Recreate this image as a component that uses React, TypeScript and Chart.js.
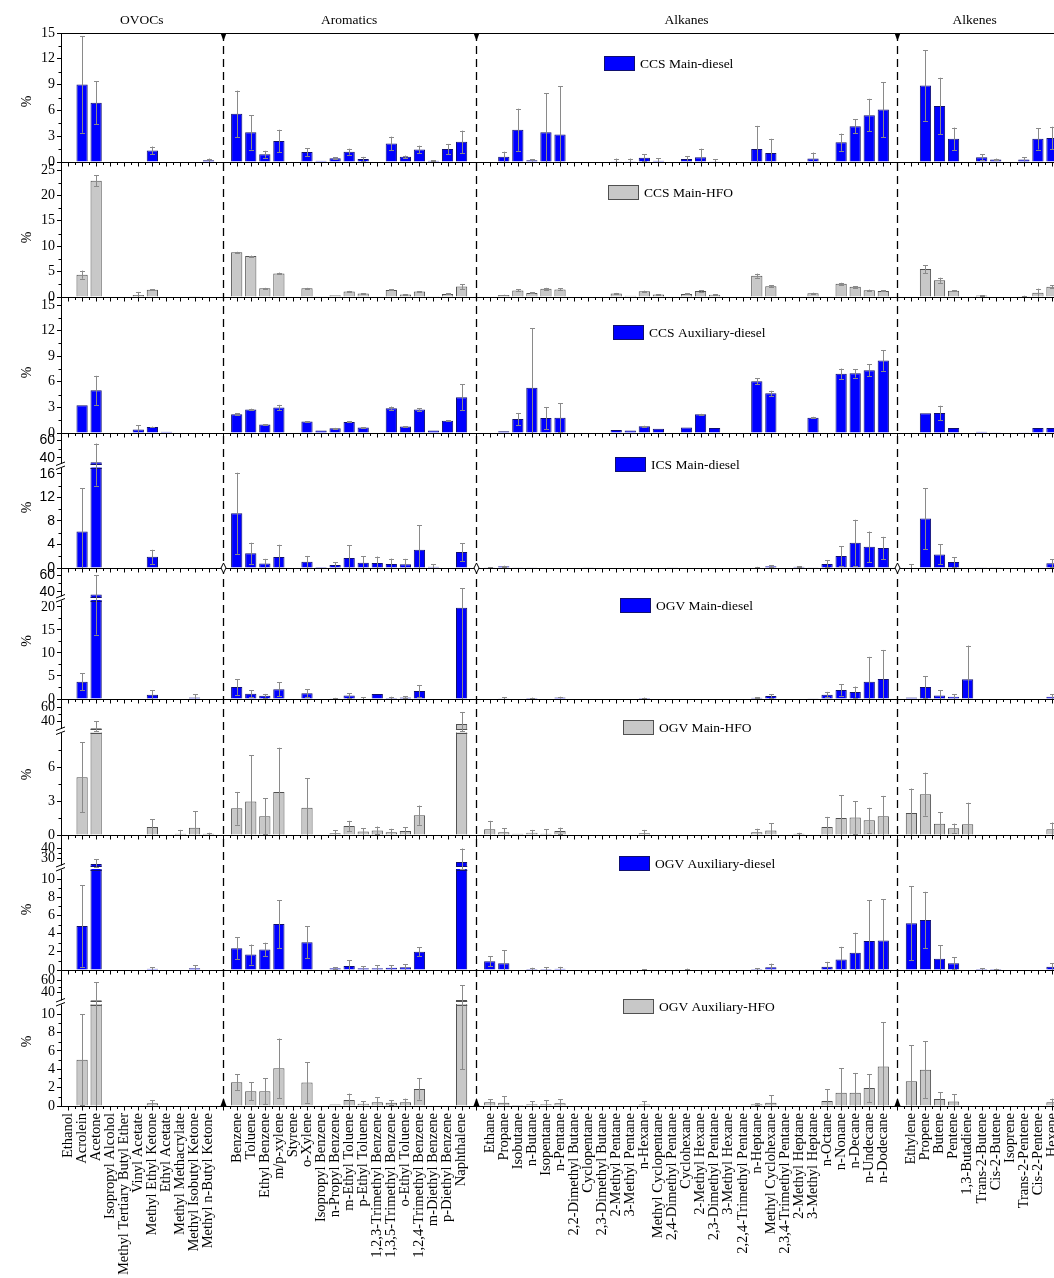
import React, { useEffect, useRef } from 'react';
import { Chart, registerables, LinearScale } from 'chart.js';

const SERIF = "'Liberation Serif', 'Times New Roman', serif";
const SANS = "'Liberation Sans', Arial, sans-serif";

// ---------- categories ----------
const ovocs = ['Ethanol', 'Acrolein', 'Acetone', 'Isopropyl Alcohol', 'Methyl Tertiary Butyl Ether', 'Vinyl Acetate', 'Methyl Ethyl Ketone', 'Ethyl Acetate', 'Methyl Methacrylate', 'Methyl Isobutyl Ketone', 'Methyl n-Butyl Ketone'];
const aromatics = ['Benzene', 'Toluene', 'Ethyl Benzene', 'm/p-xylene', 'Styrene', 'o-Xylene', 'Isopropyl Benzene', 'n-Propyl Benzene', 'm-Ethyl Toluene', 'p-Ethyl Toluene', '1,2,3-Trimethyl Benzene', '1,3,5-Trimethyl Benzene', 'o-Ethyl Toluene', '1,2,4-Trimethyl Benzene', 'm-Diethyl Benzene', 'p-Diethyl Benzene', 'Naphthalene'];
const alkanes = ['Ethane', 'Propane', 'Isobutane', 'n-Butane', 'Isopentane', 'n-Pentane', '2,2-Dimethyl Butane', 'Cyclopentane', '2,3-Dimethyl Butane', '2-Methyl Pentane', '3-Methyl Pentane', 'n-Hexane', 'Methyl Cyclopentane', '2,4-Dimethyl Pentane', 'Cyclohexane', '2-Methyl Hexane', '2,3-Dimethyl Pentane', '3-Methyl Hexane', '2,2,4-Trimethyl Pentane', 'n-Heptane', 'Methyl Cyclohexane', '2,3,4-Trimethyl Pentane', '2-Methyl Heptane', '3-Methyl Heptane', 'n-Octane', 'n-Nonane', 'n-Decane', 'n-Undecane', 'n-Dodecane'];
const alkenes = ['Ethylene', 'Propene', 'Butene', 'Pentene', '1,3-Butadiene', 'Trans-2-Butene', 'Cis-2-Butene', 'Isoprene', 'Trans-2-Pentene', 'Cis-2-Pentene', 'Hexene'];
const sectionNames = ['OVOCs', 'Aromatics', 'Alkanes', 'Alkenes'];

const categories = [...ovocs, '', ...aromatics, '', ...alkanes, '', ...alkenes];

// ---------- data (order: OVOCs | Aromatics | Alkanes | Alkenes) ----------
const ccsMainDieselVal = [
  0, 9.0, 6.9, 0, 0, 0, 1.35, 0.05, 0, 0.05, 0.2,
  5.6, 3.45, 0.9, 2.45, 0, 1.15, 0.15, 0.45, 1.2, 0.35, 0, 2.15, 0.6, 1.45, 0.15, 1.5, 2.35,
  0, 0.6, 3.75, 0.2, 3.45, 3.2, 0, 0, 0.05, 0.1, 0.1, 0.5, 0.15, 0.05, 0.35, 0.55, 0.1, 0, 0, 1.5, 1.05, 0, 0, 0.4, 0, 2.3, 4.15, 5.45, 6.1,
  0, 8.9, 6.5, 2.7, 0, 0.55, 0.3, 0, 0.3, 2.7, 2.8,
];
const ccsMainDieselErr = [
  0, 5.6, 2.5, 0, 0, 0, 0.45, 0, 0, 0, 0.2,
  2.7, 2.0, 0.4, 1.3, 0, 0.45, 0, 0.1, 0.35, 0.25, 0, 0.8, 0.15, 0.45, 0.05, 0.6, 1.3,
  0, 0.6, 2.45, 0.15, 4.55, 5.6, 0, 0, 0, 0.3, 0.3, 0.4, 0.3, 0, 0.3, 1.0, 0.2, 0, 0, 2.7, 1.65, 0, 0, 0.7, 0, 1.0, 0.8, 1.9, 3.2,
  0, 4.1, 3.3, 1.3, 0, 0.35, 0.1, 0, 0.25, 1.25, 1.3,
];
const ccsMainHfoVal = [
  0, 4.4, 22.9, 0, 0, 0.4, 1.45, 0.1, 0, 0.05, 0.1,
  8.8, 8.05, 1.7, 4.65, 0, 1.7, 0.15, 0.35, 1.1, 0.7, 0, 1.4, 0.5, 1.1, 0.15, 0.6, 2.05,
  0, 0.4, 1.3, 0.8, 1.6, 1.5, 0, 0.1, 0, 0.7, 0.25, 1.15, 0.5, 0.1, 0.6, 1.2, 0.45, 0, 0, 4.2, 2.1, 0, 0, 0.75, 0, 2.6, 2.0, 1.35, 1.2,
  0, 5.5, 3.3, 1.25, 0, 0.3, 0.1, 0, 0.15, 0.85, 2.0,
];
const ccsMainHfoErr = [
  0, 0.8, 1.1, 0, 0, 0.6, 0.1, 0, 0, 0, 0,
  0.1, 0.1, 0.1, 0.15, 0, 0.1, 0, 0, 0.1, 0.05, 0, 0.1, 0.05, 0.05, 0, 0.1, 0.45,
  0, 0.05, 0.2, 0.1, 0.2, 0.2, 0, 0, 0, 0.1, 0, 0.1, 0.05, 0, 0.1, 0.15, 0.05, 0, 0, 0.4, 0.2, 0, 0, 0.1, 0, 0.2, 0.15, 0.1, 0.1,
  0, 0.8, 0.5, 0.1, 0, 0.05, 0, 0, 0.1, 0.8, 0.3,
];
const ccsAuxDieselVal = [
  0, 3.25, 5.0, 0, 0, 0.4, 0.7, 0.15, 0, 0, 0,
  2.2, 2.75, 1.0, 3.0, 0, 1.35, 0.3, 0.55, 1.3, 0.65, 0, 2.9, 0.75, 2.75, 0.3, 1.45, 4.2,
  0, 0.2, 1.65, 5.3, 1.75, 1.8, 0, 0, 0, 0.35, 0.3, 0.8, 0.5, 0, 0.65, 2.2, 0.6, 0, 0, 6.05, 4.65, 0, 0, 1.8, 0, 6.95, 7.0, 7.35, 8.5,
  0, 2.3, 2.35, 0.6, 0, 0.15, 0.1, 0, 0.1, 0.6, 0.6,
];
const ccsAuxDieselErr = [
  0, 0, 1.7, 0, 0, 0.5, 0.05, 0, 0, 0, 0,
  0.1, 0.1, 0.05, 0.3, 0, 0.05, 0, 0.05, 0.05, 0.05, 0, 0.2, 0.05, 0.15, 0, 0.05, 1.5,
  0, 0, 0.7, 7.0, 1.3, 1.7, 0, 0, 0, 0, 0, 0.05, 0, 0, 0, 0.05, 0, 0, 0, 0.35, 0.3, 0, 0, 0.1, 0, 0.6, 0.5, 0.7, 1.2,
  0, 0, 0.85, 0, 0, 0, 0, 0, 0, 0, 0,
];
const icsMainDieselVal = [
  0, 6.2, 35, 0, 0, 0, 1.9, 0, 0, 0, 0,
  9.3, 2.5, 0.75, 1.85, 0, 1.05, 0.15, 0.5, 1.7, 0.9, 0.85, 0.7, 0.65, 3.1, 0.2, 0, 2.7,
  0.05, 0.3, 0.05, 0.05, 0, 0, 0, 0.05, 0, 0, 0, 0, 0, 0.05, 0, 0, 0, 0, 0, 0.1, 0.3, 0, 0.2, 0.05, 0.7, 2.05, 4.3, 3.6, 3.4,
  0.1, 8.4, 2.3, 1.0, 0, 0.05, 0.05, 0, 0, 0, 0.8,
];
const icsMainDieselErr = [
  0, 7.4, 21, 0, 0, 0, 1.2, 0, 0, 0, 0,
  6.9, 1.8, 0.8, 2.1, 0, 1.0, 0, 0.5, 2.2, 1.1, 1.1, 0.9, 0.9, 4.2, 0.4, 0, 1.5,
  0.1, 0.1, 0, 0, 0, 0, 0, 0, 0, 0, 0, 0, 0, 0, 0, 0, 0, 0, 0, 0.1, 0.2, 0, 0.1, 0, 0.6, 1.65, 3.9, 2.6, 1.9,
  0.5, 5.2, 1.7, 0.8, 0, 0, 0, 0, 0, 0, 0.7,
];
const ogvMainDieselVal = [
  0, 3.75, 37, 0, 0, 0, 0.95, 0, 0, 0.35, 0,
  2.6, 1.15, 0.7, 2.1, 0, 1.25, 0.1, 0.15, 0.75, 0.1, 1.1, 0.2, 0.35, 1.75, 0.1, 0, 19.8,
  0, 0.15, 0, 0.2, 0, 0.3, 0, 0, 0, 0, 0, 0.2, 0, 0, 0, 0, 0, 0, 0, 0.25, 0.65, 0, 0.1, 0.15, 0.95, 1.95, 1.5, 3.75, 4.35,
  0.3, 2.6, 0.75, 0.5, 4.3, 0.1, 0, 0, 0, 0, 0.5,
];
const ogvMainDieselErr = [
  0, 1.8, 23, 0, 0, 0, 0.9, 0, 0, 0.7, 0,
  1.7, 0.7, 0.4, 1.5, 0, 0.9, 0, 0.1, 0.5, 0.3, 0, 0.3, 0.2, 1.3, 0, 0, 24.5,
  0, 0.2, 0, 0.1, 0, 0.2, 0, 0, 0, 0, 0, 0.1, 0, 0, 0, 0, 0, 0, 0, 0.1, 0.4, 0, 0, 0, 0.6, 1.2, 1.2, 5.4, 6.3,
  0, 2.4, 1.1, 0.5, 7.3, 0, 0, 0, 0, 0, 0.5,
];
const ogvMainHfoVal = [
  0, 5.1, 30, 0, 0, 0, 0.7, 0, 0.1, 0.65, 0.1,
  2.35, 2.95, 1.65, 3.8, 0, 2.4, 0, 0.15, 0.8, 0.3, 0.4, 0.25, 0.35, 1.75, 0, 0, 36,
  0.5, 0.25, 0.1, 0.2, 0.1, 0.35, 0, 0, 0, 0, 0, 0.15, 0, 0, 0, 0, 0, 0, 0.05, 0.25, 0.4, 0, 0.1, 0.05, 0.7, 1.5, 1.55, 1.3, 1.65,
  1.95, 3.6, 1.0, 0.6, 0.95, 0.05, 0.05, 0, 0, 0, 0.5,
];
const ogvMainHfoErr = [
  0, 3.1, 10, 0, 0, 0, 0.7, 0, 0.35, 1.45, 0.1,
  1.45, 4.1, 1.6, 3.9, 0, 2.6, 0, 0.25, 0.45, 0.3, 0.35, 0.3, 0.35, 0.85, 0, 0, 17,
  0.75, 0.35, 0, 0.25, 0.4, 0.3, 0, 0, 0, 0, 0, 0.3, 0, 0, 0, 0, 0, 0, 0, 0.3, 0.65, 0, 0.1, 0, 0.9, 2.0, 1.45, 1.1, 1.8,
  2.15, 1.9, 1.0, 0.4, 1.9, 0, 0, 0, 0, 0, 0.6,
];
const ogvAuxDieselVal = [
  0, 4.85, 24, 0, 0, 0, 0.15, 0, 0, 0.2, 0,
  2.4, 1.7, 2.25, 5.05, 0, 3.05, 0, 0.2, 0.45, 0.2, 0.2, 0.25, 0.3, 2.0, 0, 0, 26,
  0.95, 0.75, 0.05, 0.1, 0.1, 0.15, 0, 0, 0, 0, 0, 0.05, 0, 0, 0.05, 0, 0, 0, 0, 0.1, 0.3, 0, 0.05, 0, 0.35, 1.15, 1.9, 3.2, 3.25,
  5.15, 5.5, 1.25, 0.75, 0, 0.1, 0.1, 0, 0.05, 0.05, 0.35,
];
const ogvAuxDieselErr = [
  0, 4.5, 5, 0, 0, 0, 0.15, 0, 0, 0.3, 0,
  1.2, 1.1, 0.75, 2.65, 0, 1.75, 0, 0.1, 0.65, 0.2, 0.3, 0.25, 0.35, 0.5, 0, 0, 13.5,
  0.55, 1.4, 0, 0.15, 0.2, 0.2, 0, 0, 0, 0, 0, 0.05, 0, 0, 0.1, 0, 0, 0, 0, 0.1, 0.4, 0, 0, 0, 0.55, 1.4, 2.2, 4.5, 4.55,
  4.05, 3.1, 1.45, 0.65, 0, 0.1, 0.05, 0, 0, 0, 0.4,
];
const ogvAuxHfoVal = [
  0, 5.05, 27, 0, 0, 0, 0.3, 0, 0, 0, 0,
  2.6, 1.6, 1.6, 4.1, 0, 2.55, 0, 0.15, 0.65, 0.25, 0.4, 0.35, 0.4, 1.85, 0, 0, 28,
  0.4, 0.35, 0.1, 0.2, 0.2, 0.3, 0, 0, 0, 0, 0, 0.15, 0, 0, 0, 0, 0, 0, 0, 0.2, 0.35, 0, 0.05, 0, 0.55, 1.45, 1.45, 1.95, 4.3,
  2.7, 3.95, 0.75, 0.5, 0, 0.05, 0.05, 0, 0, 0, 0.4,
];
const ogvAuxHfoErr = [
  0, 4.95, 30, 0, 0, 0, 0.3, 0, 0, 0, 0,
  0.85, 1.0, 1.4, 3.25, 0, 2.2, 0, 0, 0.7, 0.25, 0.55, 0.25, 0.4, 1.15, 0, 0, 24,
  0.35, 0.7, 0, 0.3, 0.45, 0.45, 0, 0, 0, 0, 0, 0.35, 0, 0, 0, 0, 0, 0, 0, 0.1, 0.8, 0, 0, 0, 1.25, 2.65, 2.15, 1.5, 4.8,
  3.9, 3.1, 0.75, 0.8, 0, 0, 0, 0, 0, 0, 0.4,
];

const panelNames = ['CCS Main-diesel', 'CCS Main-HFO', 'CCS Auxiliary-diesel', 'ICS Main-diesel', 'OGV Main-diesel', 'OGV Main-HFO', 'OGV Auxiliary-diesel', 'OGV Auxiliary-HFO'];

// y tick labels per panel
const ticksP1 = [0, 3, 6, 9, 12, 15];
const ticksP2 = [0, 5, 10, 15, 20, 25];
const ticksP3 = [0, 3, 6, 9, 12, 15];
const ticksP4 = [0, 4, 8, 12, 16, 40, 60];
const ticksP5 = [0, 5, 10, 15, 20, 40, 60];
const ticksP6 = [0, 3, 6, 40, 60];
const ticksP7 = [0, 2, 4, 6, 8, 10, 30, 40];
const ticksP8 = [0, 2, 4, 6, 8, 10, 40, 60];

const BLUE = '#0000FF';
const BLUE_EDGE = '#101070';
const GRAY = '#C8C8C8';
const GRAY_EDGE = '#505050';
const ERR = '#8a8a8a';

// ---------- panel layout (scale config) ----------
type Panel = {
  id: string; name: string; val: number[]; err: number[]; gray: boolean;
  height: number; pad: number; map: number[][]; ticks: number[]; minor: number[];
  brk: number[] | null; legend: number[]; sansAbove: number;
};
const PANELS: Panel[] = [
  { id: 'p1', name: panelNames[0], val: ccsMainDieselVal, err: ccsMainDieselErr, gray: false, height: 137, pad: 8, map: [[0, 0], [15, 129]], ticks: ticksP1, minor: [1.5, 4.5, 7.5, 10.5, 13.5], brk: null, legend: [604, 23], sansAbove: 999 },
  { id: 'p2', name: panelNames[1], val: ccsMainHfoVal, err: ccsMainHfoErr, gray: true, height: 135, pad: 8, map: [[0, 0], [25, 127]], ticks: ticksP2, minor: [2.5, 7.5, 12.5, 17.5, 22.5], brk: null, legend: [608, 15], sansAbove: 999 },
  { id: 'p3', name: panelNames[2], val: ccsAuxDieselVal, err: ccsAuxDieselErr, gray: false, height: 135, pad: 7, map: [[0, 0], [15, 128]], ticks: ticksP3, minor: [1.5, 4.5, 7.5, 10.5, 13.5], brk: null, legend: [613, 20], sansAbove: 999 },
  { id: 'p4', name: panelNames[3], val: icsMainDieselVal, err: icsMainDieselErr, gray: false, height: 135, pad: 7, map: [[0, 0], [17, 100], [33, 104], [60, 128]], ticks: ticksP4, minor: [2, 6, 10, 14, 50], brk: [17, 33], legend: [615, 17], sansAbove: -1 },
  { id: 'p5', name: panelNames[4], val: ogvMainDieselVal, err: ogvMainDieselErr, gray: false, height: 132, pad: 8, map: [[0, 0], [21.5, 99], [34, 102], [60, 124]], ticks: ticksP5, minor: [2.5, 7.5, 12.5, 17.5, 50], brk: [21.5, 34], legend: [620, 23], sansAbove: 30 },
  { id: 'p6', name: panelNames[5], val: ogvMainHfoVal, err: ogvMainHfoErr, gray: true, height: 135, pad: 7, map: [[0, 0], [9, 102], [29, 106], [60, 128]], ticks: ticksP6, minor: [1.5, 4.5, 7.5, 50], brk: [9, 29], legend: [623, 13], sansAbove: 999 },
  { id: 'p7', name: panelNames[6], val: ogvAuxDieselVal, err: ogvAuxDieselErr, gray: false, height: 135, pad: 7, map: [[0, 0], [11, 100], [23, 105], [46, 128]], ticks: ticksP7, minor: [1, 3, 5, 7, 9, 35], brk: [11, 23], legend: [619, 14], sansAbove: 999 },
  { id: 'p8', name: panelNames[7], val: ogvAuxHfoVal, err: ogvAuxHfoErr, gray: true, height: 129, pad: 0, map: [[0, 0], [11, 101], [28, 106], [66, 129]], ticks: ticksP8, minor: [1, 3, 5, 7, 9, 50], brk: [11, 28], legend: [623, 22], sansAbove: 999 },
];
const PANEL_BY_ID: Record<string, Panel> = {};
PANELS.forEach((p) => { PANEL_BY_ID[p.id] = p; });

// section boundaries in category-slot units
const GAP_SLOTS = [11, 29, 59];
const SECTION_SPANS = [[-0.5, 11], [11, 29], [29, 59], [59, 70]];

function withGaps(arr: number[]): (number | null)[] {
  return [...arr.slice(0, 11), null, ...arr.slice(11, 28), null, ...arr.slice(28, 57), null, ...arr.slice(57)];
}

// ---------- broken linear scale ----------
class BrokenScale extends LinearScale {
  static id = 'broken';
  static defaults = {};
  buildTicks() {
    const p = PANEL_BY_ID[(this as any).id];
    return p.ticks.map((v) => ({ value: v }));
  }
  _frac(v: number) {
    const pts = PANEL_BY_ID[(this as any).id].map;
    const total = pts[pts.length - 1][1];
    if (v <= pts[0][0]) return 0;
    for (let i = 1; i < pts.length; i++) {
      const [v0, p0] = pts[i - 1];
      const [v1, p1] = pts[i];
      if (v <= v1) return (p0 + ((v - v0) / (v1 - v0)) * (p1 - p0)) / total;
    }
    return 1;
  }
  getPixelForValue(v: any) {
    if (v === null || v === undefined || isNaN(v)) return NaN;
    const p = PANEL_BY_ID[(this as any).id];
    const self: any = this;
    const zero = self.bottom - p.pad;
    return zero - this._frac(+v) * (zero - self.top);
  }
  getValueForPixel(px: number) {
    const p = PANEL_BY_ID[(this as any).id];
    const self: any = this;
    const zero = self.bottom - p.pad;
    const pts = p.map;
    const total = pts[pts.length - 1][1];
    const f = ((zero - px) / (zero - self.top)) * total;
    for (let i = 1; i < pts.length; i++) {
      const [v0, p0] = pts[i - 1];
      const [v1, p1] = pts[i];
      if (f <= p1) return v0 + ((f - p0) / (p1 - p0)) * (v1 - v0);
    }
    return pts[pts.length - 1][0];
  }
}

Chart.register(...registerables, BrokenScale as any);

function line(ctx: CanvasRenderingContext2D, x1: number, y1: number, x2: number, y2: number) {
  ctx.beginPath();
  ctx.moveTo(x1, y1);
  ctx.lineTo(x2, y2);
  ctx.stroke();
}

const extrasPlugin = {
  id: 'extras',
  afterDatasetsDraw(chart: any) {
    const ctx: CanvasRenderingContext2D = chart.ctx;
    ctx.save();
    PANELS.forEach((p, di) => {
      const meta = chart.getDatasetMeta(di);
      const ys = chart.scales[p.id];
      const vals = withGaps(p.val);
      const errs = withGaps(p.err);
      // axis-break gap through bars
      if (p.brk) {
        const ym = (ys.getPixelForValue(p.brk[0]) + ys.getPixelForValue(p.brk[1])) / 2;
        meta.data.forEach((bar: any, i: number) => {
          const v = vals[i];
          if (v == null || v <= p.brk![0]) return;
          const w = bar.width;
          ctx.fillStyle = '#ffffff';
          ctx.fillRect(bar.x - w / 2 - 1, ym - 1.5, w + 2, 3);
          ctx.strokeStyle = p.gray ? GRAY_EDGE : BLUE_EDGE;
          ctx.lineWidth = 1;
          line(ctx, bar.x - w / 2, Math.round(ym - 2) + 0.5, bar.x + w / 2, Math.round(ym - 2) + 0.5);
          line(ctx, bar.x - w / 2, Math.round(ym + 2) + 0.5, bar.x + w / 2, Math.round(ym + 2) + 0.5);
        });
      }
      // error bars
      ctx.strokeStyle = ERR;
      ctx.lineWidth = 1;
      meta.data.forEach((bar: any, i: number) => {
        const v = vals[i];
        const e = errs[i];
        if (v == null || e == null || e <= 0) return;
        const x = Math.round(bar.x) + 0.5;
        const yTop = ys.getPixelForValue(v + e);
        const yBot = ys.getPixelForValue(Math.max(0, v - e));
        line(ctx, x, yTop, x, yBot);
        line(ctx, x - 2.5, Math.round(yTop) + 0.5, x + 2.5, Math.round(yTop) + 0.5);
        if (v - e > 0) line(ctx, x - 2.5, Math.round(yBot) + 0.5, x + 2.5, Math.round(yBot) + 0.5);
      });
    });
    ctx.restore();
  },
  afterDraw(chart: any) {
    const ctx: CanvasRenderingContext2D = chart.ctx;
    const ca = chart.chartArea;
    const xs = chart.scales.x;
    ctx.save();
    ctx.strokeStyle = '#000';
    ctx.fillStyle = '#000';
    ctx.lineWidth = 1;
    // top frame
    line(ctx, ca.left, Math.round(ca.top) + 0.5, ca.right, Math.round(ca.top) + 0.5);

    PANELS.forEach((p) => {
      const ys = chart.scales[p.id];
      const y0 = Math.round(ys.getPixelForValue(0)) + 0.5;
      ctx.strokeStyle = '#000';
      ctx.lineWidth = 1;
      line(ctx, ca.left, y0, ca.right, y0);
      for (let i = 0; i < categories.length; i++) {
        const x = Math.round(xs.getPixelForValue(i)) + 0.5;
        line(ctx, x, y0, x, y0 + 4);
        const xm = Math.round(xs.getPixelForValue(i + 0.5)) + 0.5;
        line(ctx, xm, y0, xm, y0 + 2.5);
      }
      // minor y ticks
      p.minor.forEach((v) => {
        const y = Math.round(ys.getPixelForValue(v)) + 0.5;
        line(ctx, ys.right - 2.5, y, ys.right, y);
      });
      // axis break symbol
      if (p.brk) {
        const ym = (ys.getPixelForValue(p.brk[0]) + ys.getPixelForValue(p.brk[1])) / 2;
        const ax = ys.right;
        ctx.fillStyle = '#fff';
        ctx.fillRect(ax - 5, ym - 2, 10, 4);
        ctx.strokeStyle = '#000';
        line(ctx, ax - 5, ym - 0.5, ax + 4, ym - 4);
        line(ctx, ax - 5, ym + 3.5, ax + 4, ym);
      }
      // legend
      const bx = p.legend[0];
      const by = ys.top + p.legend[1];
      ctx.fillStyle = p.gray ? GRAY : BLUE;
      ctx.fillRect(bx, by, 31, 15);
      ctx.strokeStyle = p.gray ? GRAY_EDGE : BLUE_EDGE;
      ctx.strokeRect(bx + 0.5, by + 0.5, 30, 14);
      ctx.fillStyle = '#000';
      ctx.font = `13.5px ${SERIF}`;
      ctx.textAlign = 'left';
      ctx.textBaseline = 'middle';
      ctx.fillText(p.name, bx + 36, by + 8);
    });

    // dashed section separators
    const p4 = chart.scales.p4;
    const p4zero = p4.getPixelForValue(0);
    GAP_SLOTS.forEach((s) => {
      const x = Math.round(xs.getPixelForValue(s)) + 0.5;
      ctx.strokeStyle = '#000';
      ctx.lineWidth = 1.3;
      ctx.setLineDash([8, 5]);
      line(ctx, x, ca.top, x, ca.bottom);
      ctx.setLineDash([]);
      ctx.fillStyle = '#000';
      ctx.beginPath();
      ctx.moveTo(x - 3, ca.top);
      ctx.lineTo(x + 3, ca.top);
      ctx.lineTo(x, ca.top + 8);
      ctx.closePath();
      ctx.fill();
      ctx.beginPath();
      ctx.moveTo(x - 3, ca.bottom);
      ctx.lineTo(x + 3, ca.bottom);
      ctx.lineTo(x, ca.bottom - 8);
      ctx.closePath();
      ctx.fill();
      ctx.lineWidth = 1;
      ctx.fillStyle = '#fff';
      ctx.beginPath();
      ctx.moveTo(x, p4zero - 5);
      ctx.lineTo(x + 2.5, p4zero);
      ctx.lineTo(x, p4zero + 5);
      ctx.lineTo(x - 2.5, p4zero);
      ctx.closePath();
      ctx.fill();
      ctx.stroke();
    });

    // section headers
    ctx.fillStyle = '#000';
    ctx.font = `13.5px ${SERIF}`;
    ctx.textAlign = 'center';
    ctx.textBaseline = 'middle';
    sectionNames.forEach((name, i) => {
      const [a, b] = SECTION_SPANS[i];
      const x = (xs.getPixelForValue(a) + xs.getPixelForValue(b)) / 2;
      ctx.fillText(name, x, 20);
    });
    ctx.restore();
  },
};

export default function App() {
  const ref = useRef<HTMLCanvasElement>(null);
  useEffect(() => {
    const canvas = ref.current;
    if (!canvas) return;
    const datasets = PANELS.map((p) => ({
      type: 'bar' as const,
      label: p.name,
      data: withGaps(p.val),
      xAxisID: 'x',
      yAxisID: p.id,
      grouped: false,
      backgroundColor: p.gray ? GRAY : BLUE,
      borderColor: p.gray ? GRAY_EDGE : BLUE_EDGE,
      borderWidth: 1,
      borderSkipped: 'start' as const,
      barPercentage: 0.8,
      categoryPercentage: 1,
    }));
    const scales: any = {
      x: {
        type: 'category',
        position: 'bottom',
        offset: true,
        grid: { display: false, drawTicks: false },
        border: { display: false },
        ticks: {
          autoSkip: false,
          maxRotation: 90,
          minRotation: 90,
          padding: 7,
          color: '#000',
          font: { family: SERIF, size: 14.5 },
        },
        afterFit: (s: any) => {
          s.height = 172;
          s.paddingLeft = 0;
          s.paddingRight = 0;
        },
      },
    };
    PANELS.forEach((p, i) => {
      scales[p.id] = {
        type: 'broken',
        position: 'left',
        stack: 'panels',
        stackWeight: p.height,
        weight: PANELS.length - i,
        min: 0,
        max: p.map[p.map.length - 1][0],
        grid: { display: true, drawOnChartArea: false, drawTicks: true, tickLength: 4, color: '#000', lineWidth: 1 },
        border: { display: true, color: '#000', width: 1 },
        ticks: {
          autoSkip: false,
          padding: 2,
          color: '#000',
          font: (c: any) => ({ family: c.tick && c.tick.value > p.sansAbove ? SANS : SERIF, size: 14 }),
          callback: (v: any) => String(v),
        },
        title: { display: true, text: '%', color: '#000', font: { family: SERIF, size: 14 }, padding: { top: 19, bottom: 0 } },
        afterFit: (s: any) => {
          s.width = 61;
          s.paddingTop = 0;
          s.paddingBottom = 0;
        },
      };
    });
    const chart = new Chart(canvas, {
      type: 'bar',
      data: { labels: categories, datasets: datasets as any },
      options: {
        responsive: false,
        animation: false,
        devicePixelRatio: 1,
        events: [],
        layout: { padding: { top: 33, left: 0, right: 0, bottom: 0 } },
        plugins: { legend: { display: false }, tooltip: { enabled: false } },
        scales,
      } as any,
      plugins: [extrasPlugin as any],
    });
    return () => chart.destroy();
  }, []);
  return (
    <div style={{ position: 'absolute', left: 0, top: 0, width: 1054, height: 1278, overflow: 'hidden', background: '#fff' }}>
      <canvas ref={ref} width={1059} height={1278} style={{ display: 'block' }} />
    </div>
  );
}
